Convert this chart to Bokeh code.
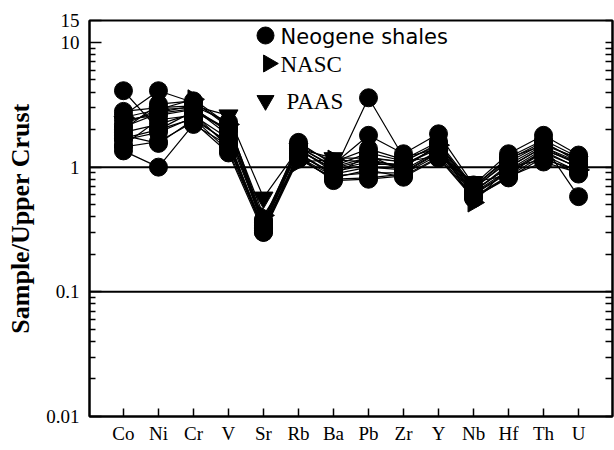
import numpy as np
from bokeh.plotting import figure
from bokeh.models import (Range1d, FixedTicker, LogAxis, Span, Label, LinearScale,
                          ColumnDataSource)
from bokeh.embed import file_html
from bokeh.resources import INLINE

# ---------------- data ----------------
elements = ["Co", "Ni", "Cr", "V", "Sr", "Rb", "Ba", "Pb", "Zr", "Y", "Nb", "Hf", "Th", "U"]

s01 = [4.10, 2.00, 2.80, 2.00, 0.33, 1.40, 0.95, 1.10, 1.05, 1.45, 0.65, 1.00, 1.45, 1.10]
s02 = [2.60, 4.10, 3.30, 2.20, 0.35, 1.45, 1.00, 1.20, 1.10, 1.55, 0.68, 1.10, 1.55, 1.15]
s03 = [1.35, 1.00, 2.20, 1.50, 0.31, 1.20, 0.85, 0.90, 0.90, 1.30, 0.60, 0.90, 1.30, 1.00]
s04 = [1.80, 1.55, 2.40, 1.60, 0.32, 1.25, 0.90, 3.60, 1.20, 1.40, 0.62, 0.95, 1.40, 1.05]
s05 = [2.20, 2.90, 3.00, 1.90, 0.36, 1.58, 1.05, 1.80, 1.28, 1.85, 0.72, 1.28, 1.80, 1.25]
s06 = [1.50, 2.40, 2.60, 1.70, 0.30, 1.30, 0.88, 1.00, 0.95, 1.35, 0.63, 1.05, 1.50, 0.58]
s07 = [2.00, 3.20, 3.40, 2.10, 0.38, 1.50, 1.10, 1.40, 1.15, 1.60, 0.70, 1.20, 1.65, 1.20]
s08 = [1.65, 1.90, 2.50, 1.55, 0.33, 1.18, 0.80, 0.82, 0.88, 1.25, 0.58, 0.85, 1.25, 0.92]
s09 = [2.40, 2.60, 2.90, 2.00, 0.35, 1.35, 0.98, 1.15, 1.00, 1.50, 0.66, 1.15, 1.60, 1.10]
s10 = [1.90, 2.20, 2.70, 1.45, 0.31, 1.22, 0.78, 0.80, 0.85, 1.20, 0.57, 0.82, 1.20, 0.88]
s11 = [2.80, 3.00, 3.10, 2.30, 0.37, 1.45, 1.02, 1.30, 1.12, 1.50, 0.69, 1.18, 1.50, 1.18]
s12 = [1.45, 1.60, 2.30, 1.30, 0.30, 1.16, 0.82, 0.95, 0.83, 1.18, 0.56, 0.84, 1.10, 0.90]
s13 = [2.10, 2.70, 2.95, 1.80, 0.34, 1.40, 0.92, 1.05, 1.05, 1.40, 0.64, 1.00, 1.45, 1.05]
s14 = [1.70, 2.00, 2.45, 1.35, 0.32, 1.28, 0.86, 1.25, 0.92, 1.32, 0.61, 0.92, 1.35, 0.98]
shale_samples = [s01, s02, s03, s04, s05, s06, s07, s08, s09, s10, s11, s12, s13, s14]

nasc = [2.50, 2.90, 3.50, 2.20, 0.41, 1.10, 1.15, 1.10, 1.00, 1.50, 0.52, 1.00, 1.15, 0.95]
paas = [2.30, 2.75, 3.10, 2.60, 0.57, 1.40, 1.18, 1.18, 1.10, 1.23, 0.76, 0.86, 1.36, 1.10]

y_major = [0.01, 0.1, 1, 10, 15]
y_labels = ["0.01", "0.1", "1", "10", "15"]
y_minor = [m * d for d in (0.01, 0.1, 1) for m in range(2, 10)]

legend_labels = ["Neogene shales", "NASC", "PAAS"]

# ---------------- figure ----------------
SERIF = "Liberation Serif"
FW, FH = 523, 396          # frame size in px
xs = list(range(len(elements)))

p = figure(width=614, height=450, x_range=Range1d(-0.97, 13.97), y_range=Range1d(0.01, 15),
           y_axis_type="log", output_backend="svg", toolbar_location=None,
           min_border_left=89, min_border_right=2, min_border_top=20, min_border_bottom=34)
p.xgrid.visible = False
p.ygrid.visible = False
p.outline_line_color = "black"
p.outline_line_width = 2
p.background_fill_color = "white"
p.border_fill_color = "white"

# screen-space ranges for the hand-placed legend
p.extra_x_ranges = {"sx": Range1d(0, FW)}
p.extra_y_ranges = {"sy": Range1d(0, FH)}
p.extra_x_scales = {"sx": LinearScale()}
p.extra_y_scales = {"sy": LinearScale()}

# x axis
xa = p.xaxis[0]
xa.ticker = FixedTicker(ticks=xs)
xa.major_label_overrides = {i: e for i, e in zip(xs, elements)}
xa.major_tick_in = 8
xa.major_tick_out = 0
xa.minor_tick_line_color = None
xa.axis_line_width = 2
xa.major_tick_line_width = 1.5
xa.major_label_text_font = SERIF
xa.major_label_text_font_size = "19px"
xa.major_label_text_color = "black"
xa.major_label_standoff = 6

# y axis
ya = p.yaxis[0]
ya.ticker = FixedTicker(ticks=y_major, minor_ticks=y_minor)
ya.major_label_overrides = {v: s for v, s in zip(y_major, y_labels)}
ya.major_tick_in = 12
ya.major_tick_out = 0
ya.minor_tick_in = 6
ya.minor_tick_out = 0
ya.axis_line_width = 2
ya.major_tick_line_width = 1.5
ya.minor_tick_line_width = 1.5
ya.major_label_text_font = SERIF
ya.major_label_text_font_size = "19px"
ya.major_label_text_color = "black"
ya.major_label_standoff = 10
ya.axis_label = "Sample/Upper Crust"
ya.axis_label_text_font = SERIF
ya.axis_label_text_font_style = "bold"
ya.axis_label_text_font_size = "26px"
ya.axis_label_text_color = "black"
ya.axis_label_standoff = 8

# right axis: ticks only
ra = LogAxis(ticker=FixedTicker(ticks=[], minor_ticks=y_major + y_minor),
             major_label_standoff=0, major_tick_in=0, major_tick_out=0,
             minor_tick_in=7, minor_tick_out=0, axis_line_width=2,
             minor_tick_line_width=1.5)
p.add_layout(ra, "right")

# reference lines
for lvl in (1, 0.1):
    p.add_layout(Span(location=lvl, dimension="width", line_color="black", line_width=2))

# NASC and PAAS
p.line(xs, nasc, line_color="black", line_width=1.2)
p.scatter(xs, nasc, marker="triangle", angle=-np.pi / 2, size=19,
          fill_color="black", line_color="black")
p.line(xs, paas, line_color="black", line_width=1.2)
p.scatter(xs, paas, marker="inverted_triangle", size=19,
          fill_color="black", line_color="black")

# shales
ml_src = ColumnDataSource(dict(xs=[xs] * len(shale_samples), ys=shale_samples))
p.multi_line("xs", "ys", source=ml_src, line_color="black", line_width=1.2)
pts_x = [x for _ in shale_samples for x in xs]
pts_y = [v for s in shale_samples for v in s]
p.scatter(pts_x, pts_y, marker="circle", size=18, fill_color="black", line_color="black")

# legend (hand placed in frame pixel space)
p.scatter([176], [FH - 15], marker="circle", size=17, fill_color="black", line_color="black",
          x_range_name="sx", y_range_name="sy")
p.scatter([179], [FH - 43], marker="triangle", angle=-np.pi / 2, size=17,
          fill_color="black", line_color="black", x_range_name="sx", y_range_name="sy")
p.scatter([176], [FH - 80], marker="inverted_triangle", size=17,
          fill_color="black", line_color="black", x_range_name="sx", y_range_name="sy")

p.add_layout(Label(x=191, y=FH - 16, x_units="screen", y_units="screen", text=legend_labels[0],
                   text_font="DejaVu Sans", text_font_size="21px", text_color="black",
                   text_baseline="middle"))
p.add_layout(Label(x=191, y=FH - 44, x_units="screen", y_units="screen", text=legend_labels[1],
                   text_font=SERIF, text_font_size="23px", text_color="black",
                   text_baseline="middle"))
p.add_layout(Label(x=197, y=FH - 81, x_units="screen", y_units="screen", text=legend_labels[2],
                   text_font=SERIF, text_font_size="23px", text_color="black",
                   text_baseline="middle"))

open("out.html", "w").write(file_html(p, INLINE))
